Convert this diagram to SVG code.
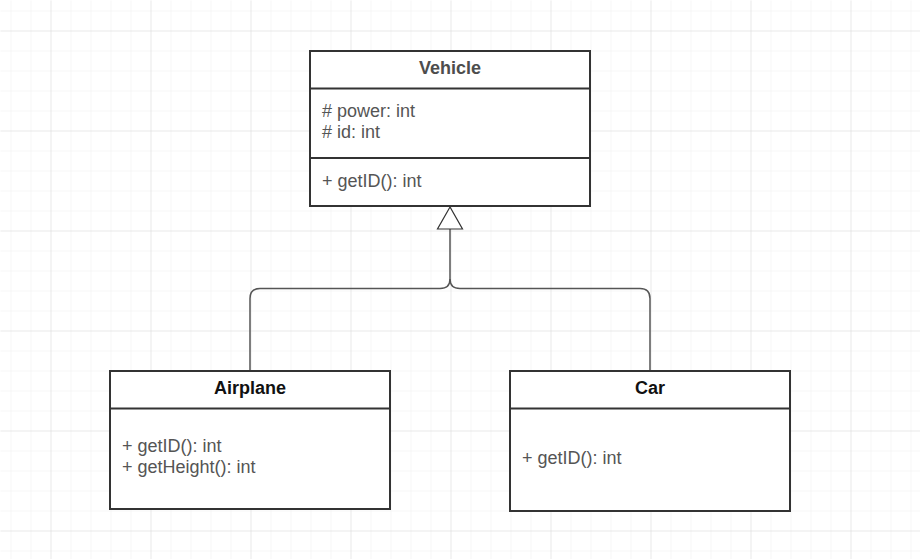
<svg xmlns="http://www.w3.org/2000/svg" width="920" height="559" viewBox="0 0 920 559">
<defs>
<pattern id="minor" x="10" y="10" width="20" height="20" patternUnits="userSpaceOnUse">
<path d="M0,0 H20 M0,0 V20" fill="none" stroke="#eeeeee" stroke-width="1"/>
</pattern>
<pattern id="major" x="50" y="30" width="100" height="100" patternUnits="userSpaceOnUse">
<path d="M0,0 H100 M0,0 V100" fill="none" stroke="#dddddd" stroke-width="1"/>
</pattern>
</defs>
<style>
.box{fill:#ffffff;stroke:#333333;stroke-width:2}
.div{stroke:#333333;stroke-width:2;fill:none}
.title{font-family:"Liberation Sans",Arial,sans-serif;font-size:18px;font-weight:bold;text-anchor:middle}
.mem{font-family:"Liberation Sans",Arial,sans-serif;font-size:18px;fill:#555555}
.conn{fill:none;stroke:#555555;stroke-width:1.5}
</style>
<rect width="920" height="559" fill="#ffffff"/>
<rect width="920" height="559" fill="url(#minor)" transform="translate(0.5,0.5)"/>
<rect width="920" height="559" fill="url(#major)" transform="translate(0.5,0.5)"/>
<g id="connectors">
<path class="conn" d="M450,229 V279 Q450,288.5 440,288.5 H260 Q250,288.5 250,298.5 V371"/>
<path class="conn" d="M450,279 Q450,288.5 460,288.5 H640 Q650,288.5 650,298.5 V371"/>
<polygon points="450,207 437.5,229 462.5,229" fill="#ffffff" stroke="#333333" stroke-width="1.2"/>
</g>
<g id="vehicle">
<rect class="box" x="310" y="51" width="280" height="155"/>
<line class="div" x1="310" y1="88.5" x2="590" y2="88.5"/>
<line class="div" x1="310" y1="158" x2="590" y2="158"/>
<text class="title" x="450" y="74" fill="#4d4d4d">Vehicle</text>
<text class="mem" x="322" y="117"># power: int</text>
<text class="mem" x="322" y="138"># id: int</text>
<text class="mem" x="322" y="187">+ getID(): int</text>
</g>
<g id="airplane">
<rect class="box" x="110" y="371" width="280" height="138"/>
<line class="div" x1="110" y1="408.5" x2="390" y2="408.5"/>
<text class="title" x="250" y="394" fill="#111111">Airplane</text>
<text class="mem" x="122" y="452">+ getID(): int</text>
<text class="mem" x="122" y="473">+ getHeight(): int</text>
</g>
<g id="car">
<rect class="box" x="510" y="371" width="280" height="140"/>
<line class="div" x1="510" y1="408.5" x2="790" y2="408.5"/>
<text class="title" x="650" y="394" fill="#111111">Car</text>
<text class="mem" x="522" y="464">+ getID(): int</text>
</g>
</svg>
